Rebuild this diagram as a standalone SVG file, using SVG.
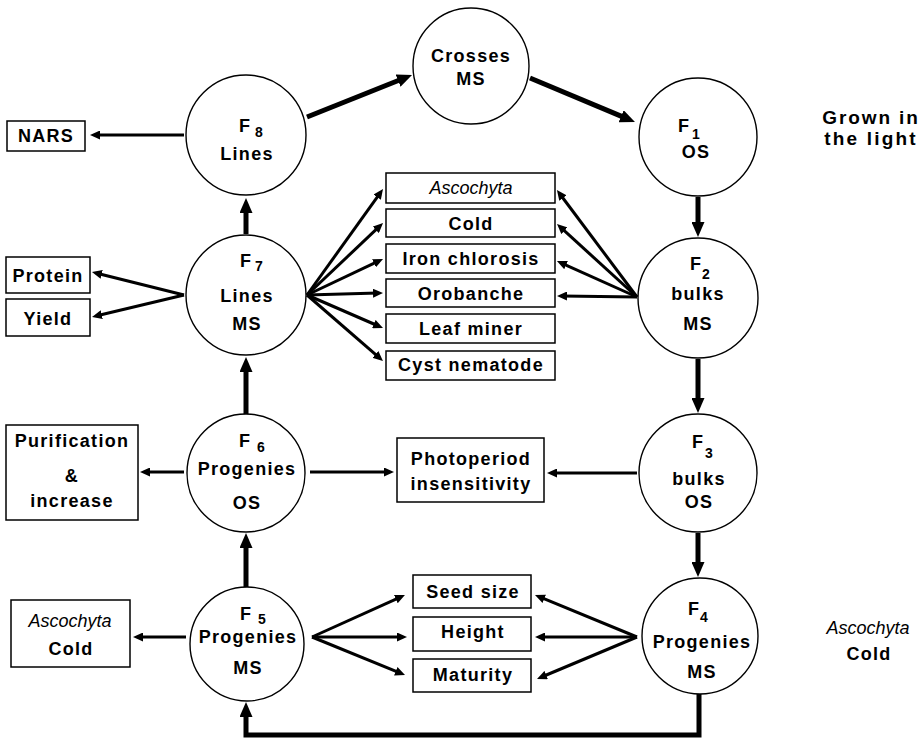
<svg xmlns="http://www.w3.org/2000/svg" width="921" height="741" viewBox="0 0 921 741">
<style>
  text { font-family: "Liberation Sans", Arial, sans-serif; font-size: 18px; fill: #000; }
  .b { font-weight: bold; letter-spacing: 1.3px; text-anchor: middle; }
  .i { font-style: italic; text-anchor: middle; }
  .f { font-weight: bold; }
  .s { font-weight: bold; font-size: 14px; }
  .node circle { fill: #fff; stroke: #000; stroke-width: 1.4; }
  .node rect { fill: #fff; stroke: #000; stroke-width: 1.5; }
  .big { fill: none; stroke: #000; stroke-width: 5; marker-end: url(#ah-big); }
  .sm { fill: none; stroke: #000; stroke-width: 3; marker-end: url(#ah-sm); }
</style>
<defs>
  <marker id="ah-big" markerUnits="userSpaceOnUse" viewBox="0 0 15 13" markerWidth="15" markerHeight="13" refX="7" refY="6.5" orient="auto">
    <path d="M0,0 L15,6.5 L0,13 z" fill="#000"/>
  </marker>
  <marker id="ah-sm" markerUnits="userSpaceOnUse" viewBox="0 0 10 9" markerWidth="10" markerHeight="9" refX="5" refY="4.5" orient="auto">
    <path d="M0,0 L10,4.5 L0,9 z" fill="#000"/>
  </marker>
</defs>
<rect width="921" height="741" fill="#fff"/>

<g id="connectors">
  <line class="big" x1="307" y1="117" x2="404.6" y2="78"/>
  <line class="big" x1="530" y1="78" x2="627.6" y2="118.9"/>
  <line class="big" x1="246" y1="234" x2="246" y2="206"/>
  <line class="big" x1="698" y1="197" x2="698" y2="229"/>
  <line class="big" x1="698" y1="359" x2="698" y2="405"/>
  <line class="big" x1="698" y1="533" x2="698" y2="569"/>
  <line class="big" x1="246" y1="415" x2="246" y2="365"/>
  <line class="big" x1="246" y1="587" x2="246" y2="541"/>
  <path class="big" d="M699,694 V735 H246 V710"/>

  <line class="sm" x1="184" y1="135" x2="95" y2="135"/>
  <line class="sm" x1="184" y1="295" x2="96.8" y2="273.2"/>
  <line class="sm" x1="184" y1="295" x2="96.9" y2="315.8"/>
  <line class="sm" x1="307" y1="295" x2="380.1" y2="193.1"/>
  <line class="sm" x1="307" y1="295" x2="379.4" y2="226.4"/>
  <line class="sm" x1="307" y1="295" x2="378.5" y2="261.1"/>
  <line class="sm" x1="307" y1="295" x2="378" y2="293.1"/>
  <line class="sm" x1="307" y1="295" x2="378.4" y2="326"/>
  <line class="sm" x1="307" y1="295" x2="379.2" y2="357.7"/>
  <line class="sm" x1="637" y1="297" x2="559.9" y2="194"/>
  <line class="sm" x1="637" y1="297" x2="560.7" y2="227.4"/>
  <line class="sm" x1="637" y1="297" x2="561.5" y2="263.1"/>
  <line class="sm" x1="637" y1="297" x2="562" y2="296"/>
  <line class="sm" x1="184" y1="472" x2="145" y2="472"/>
  <line class="sm" x1="310" y1="472" x2="389" y2="472"/>
  <line class="sm" x1="637" y1="473" x2="552" y2="473"/>
  <line class="sm" x1="186" y1="637" x2="138" y2="637"/>
  <line class="sm" x1="312" y1="637" x2="400.4" y2="597.1"/>
  <line class="sm" x1="312" y1="637" x2="402" y2="637"/>
  <line class="sm" x1="312" y1="637" x2="400.4" y2="673.1"/>
  <line class="sm" x1="637" y1="637" x2="539.6" y2="596.9"/>
  <line class="sm" x1="637" y1="637" x2="540" y2="637"/>
  <line class="sm" x1="637" y1="637" x2="541.6" y2="677"/>
</g>

<g id="crosses" class="node">
  <circle cx="471" cy="66" r="58"/>
  <text class="b" x="471" y="62">Crosses</text>
  <text class="b" x="471" y="85">MS</text>
</g>
<g id="f8" class="node">
  <circle cx="246" cy="135" r="60"/>
  <text class="f" x="239" y="132">F</text><text class="s" x="255" y="137">8</text>
  <text class="b" x="247" y="160">Lines</text>
</g>
<g id="f1" class="node">
  <circle cx="698" cy="137" r="59"/>
  <text class="f" x="678" y="132">F</text><text class="s" x="692" y="139">1</text>
  <text class="b" x="696" y="158">OS</text>
</g>
<g id="f7" class="node">
  <circle cx="246" cy="295" r="60"/>
  <text class="f" x="240" y="267">F</text><text class="s" x="255" y="271">7</text>
  <text class="b" x="247" y="302">Lines</text>
  <text class="b" x="247" y="330">MS</text>
</g>
<g id="f2" class="node">
  <circle cx="698" cy="298" r="60"/>
  <text class="f" x="690" y="270">F</text><text class="s" x="702" y="279">2</text>
  <text class="b" x="698" y="300">bulks</text>
  <text class="b" x="698" y="330">MS</text>
</g>
<g id="f6" class="node">
  <circle cx="246" cy="473" r="59"/>
  <text class="f" x="239" y="447">F</text><text class="s" x="257" y="452">6</text>
  <text class="b" x="247" y="475">Progenies</text>
  <text class="b" x="247" y="509">OS</text>
</g>
<g id="f3" class="node">
  <circle cx="698" cy="473" r="59"/>
  <text class="f" x="692" y="448">F</text><text class="s" x="705" y="458">3</text>
  <text class="b" x="699" y="485">bulks</text>
  <text class="b" x="699" y="508">OS</text>
</g>
<g id="f5" class="node">
  <circle cx="247" cy="644" r="57"/>
  <text class="f" x="240" y="620">F</text><text class="s" x="258" y="624">5</text>
  <text class="b" x="248" y="643">Progenies</text>
  <text class="b" x="248" y="674">MS</text>
</g>
<g id="f4" class="node">
  <circle cx="700" cy="636" r="58"/>
  <text class="f" x="688" y="615">F</text><text class="s" x="700" y="622">4</text>
  <text class="b" x="702" y="648">Progenies</text>
  <text class="b" x="702" y="678">MS</text>
</g>

<g id="nars" class="node">
  <rect x="7" y="121" width="78" height="30"/>
  <text class="b" x="46" y="142">NARS</text>
</g>
<g id="protein" class="node">
  <rect x="6" y="257" width="84" height="36"/>
  <text class="b" x="48" y="282">Protein</text>
</g>
<g id="yield" class="node">
  <rect x="6" y="299" width="84" height="37"/>
  <text class="b" x="48" y="325">Yield</text>
</g>
<g id="purification" class="node">
  <rect x="6" y="425" width="132" height="95"/>
  <text class="b" x="72" y="447">Purification</text>
  <text class="b" x="72" y="482">&amp;</text>
  <text class="b" x="72" y="507">increase</text>
</g>
<g id="ascocold-left" class="node">
  <rect x="11" y="600" width="119" height="67"/>
  <text class="i" x="70" y="627">Ascochyta</text>
  <text class="b" x="71" y="655">Cold</text>
</g>
<g id="photoperiod" class="node">
  <rect x="397" y="438" width="147" height="64"/>
  <text class="b" x="471" y="465">Photoperiod</text>
  <text class="b" x="471" y="490">insensitivity</text>
</g>
<g id="ascochyta" class="node">
  <rect x="386" y="173" width="169" height="30"/>
  <text class="i" x="471" y="194">Ascochyta</text>
</g>
<g id="cold" class="node">
  <rect x="386" y="209" width="169" height="28"/>
  <text class="b" x="471" y="230">Cold</text>
</g>
<g id="iron" class="node">
  <rect x="386" y="244" width="169" height="29"/>
  <text class="b" x="471" y="265">Iron chlorosis</text>
</g>
<g id="orobanche" class="node">
  <rect x="386" y="279" width="169" height="28"/>
  <text class="b" x="471" y="300">Orobanche</text>
</g>
<g id="leafminer" class="node">
  <rect x="386" y="314" width="169" height="29"/>
  <text class="b" x="471" y="335">Leaf miner</text>
</g>
<g id="cyst" class="node">
  <rect x="386" y="351" width="169" height="29"/>
  <text class="b" x="471" y="371">Cyst nematode</text>
</g>
<g id="seedsize" class="node">
  <rect x="413" y="575" width="118" height="33"/>
  <text class="b" x="473" y="598">Seed size</text>
</g>
<g id="height" class="node">
  <rect x="413" y="617" width="118" height="34"/>
  <text class="b" x="473" y="638">Height</text>
</g>
<g id="maturity" class="node">
  <rect x="413" y="659" width="118" height="33"/>
  <text class="b" x="473" y="681">Maturity</text>
</g>

<g id="labels">
  <text class="b" x="871" y="124" style="font-size:19px;letter-spacing:1.9px">Grown in</text>
  <text class="b" x="871" y="145" style="font-size:19px;letter-spacing:2.2px">the light</text>
  <text class="i" x="868" y="634">Ascochyta</text>
  <text class="b" x="869" y="660">Cold</text>
</g>
</svg>
